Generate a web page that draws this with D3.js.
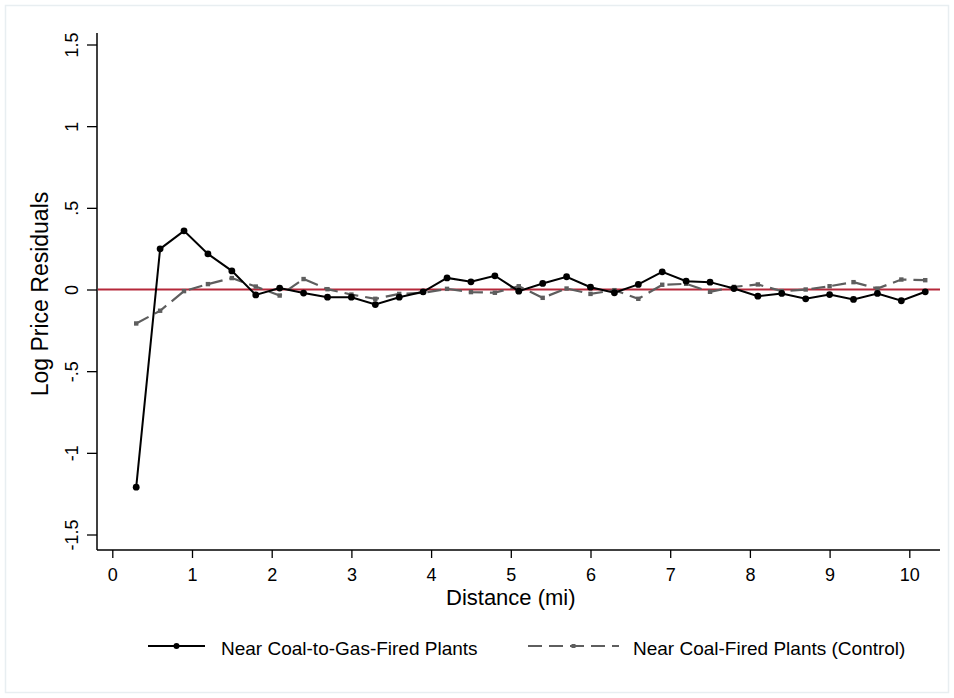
<!DOCTYPE html>
<html>
<head>
<meta charset="utf-8">
<script src="https://cdn.jsdelivr.net/npm/d3@7"></script>
<style>
  html, body { margin: 0; padding: 0; background: #fff; }
  svg { display: block; font-family: "Liberation Sans", Arial, Helvetica, sans-serif; }
</style>
</head>
<body>
<svg id="chart" width="954" height="698"></svg>
<script>
// Distance bins (miles)
const distance = [0.3, 0.6, 0.9, 1.2, 1.5, 1.8, 2.1, 2.4, 2.7, 3.0, 3.3, 3.6, 3.9, 4.2, 4.5, 4.8, 5.1,
                  5.4, 5.7, 6.0, 6.3, 6.6, 6.9, 7.2, 7.5, 7.8, 8.1, 8.4, 8.7, 9.0, 9.3, 9.6, 9.9, 10.2];

// Mean log price residuals near coal-to-gas conversions
const coalToGas = [-1.21, 0.249, 0.359, 0.218, 0.114, -0.033, 0.009, -0.022, -0.047, -0.047, -0.092, -0.047,
                   -0.014, 0.071, 0.047, 0.084, -0.010, 0.037, 0.078, 0.014, -0.020, 0.031, 0.108, 0.051,
                   0.045, 0.006, -0.041, -0.024, -0.057, -0.031, -0.061, -0.024, -0.069, -0.014];

// Mean log price residuals near coal-fired plants (control)
const coalControl = [-0.208, -0.130, -0.010, 0.033, 0.070, 0.018, -0.037, 0.064, 0.002, -0.031, -0.057, -0.027,
                     -0.020, 0.004, -0.016, -0.020, 0.020, -0.051, 0.006, -0.027, -0.004, -0.057, 0.029, 0.035,
                     -0.014, 0.016, 0.031, -0.010, 0.000, 0.020, 0.045, 0.006, 0.061, 0.057];

const xTicks = [0, 1, 2, 3, 4, 5, 6, 7, 8, 9, 10];
const yTicks = [-1.5, -1, -0.5, 0, 0.5, 1, 1.5];
const yTickLabels = ["-1.5", "-1", "-.5", "0", ".5", "1", "1.5"];

const seriesNames = ["Near Coal-to-Gas-Fired Plants", "Near Coal-Fired Plants (Control)"];

const svg = d3.select("#chart");
const FONT = "Liberation Sans, Arial, Helvetica, sans-serif";

// outer graph-region frame
svg.append("rect")
  .attr("x", 5.5).attr("y", 5.5).attr("width", 943).attr("height", 687)
  .attr("fill", "#fff").attr("stroke", "#e8eef1").attr("stroke-width", 1.5);

const x = d3.scaleLinear().domain([0, 10]).range([112.3, 909.3]);
const y = d3.scaleLinear().domain([-1.5, 1.5]).range([534.5, 44.5]);

const plotLeft = 97, plotRight = 940, plotTop = 33, plotBottom = 550;

// x axis
const xAxis = d3.axisBottom(x).tickValues(xTicks).tickFormat(d3.format("d")).tickSize(8).tickPadding(10);
const gx = svg.append("g").attr("transform", `translate(0,${plotBottom})`).call(xAxis)
  .attr("font-size", 18).attr("font-family", FONT);
gx.select(".domain").remove();
gx.append("line").attr("x1", plotLeft).attr("x2", plotRight).attr("y1", 0).attr("y2", 0)
  .attr("stroke", "#000").attr("stroke-width", 1.5);
gx.selectAll(".tick line").attr("stroke", "#000").attr("stroke-width", 1.3);
gx.selectAll(".tick text").attr("fill", "#000");

// y axis with rotated tick labels
const yAxis = d3.axisLeft(y).tickValues(yTicks).tickFormat((d, i) => yTickLabels[i]).tickSize(10).tickPadding(4);
const gy = svg.append("g").attr("transform", `translate(${plotLeft},0)`).call(yAxis)
  .attr("font-size", 18).attr("font-family", FONT);
gy.select(".domain").remove();
gy.append("line").attr("x1", 0).attr("x2", 0).attr("y1", plotTop).attr("y2", plotBottom)
  .attr("stroke", "#000").attr("stroke-width", 1.5);
gy.selectAll(".tick line").attr("stroke", "#000").attr("stroke-width", 1.3);
gy.selectAll(".tick text")
  .attr("fill", "#000")
  .attr("x", null)
  .attr("text-anchor", "middle")
  .attr("transform", "translate(-25.5,0) rotate(-90)")
  .attr("dy", "0.36em");

// axis titles
svg.append("text")
  .attr("x", (x(0) + x(10)) / 2).attr("y", 605)
  .attr("text-anchor", "middle").attr("font-size", 22).text("Distance (mi)");
svg.append("text")
  .attr("transform", `translate(48,294) rotate(-90)`)
  .attr("text-anchor", "middle").attr("font-size", 23).text("Log Price Residuals");

// zero reference line
svg.append("line")
  .attr("x1", plotLeft + 1).attr("x2", plotRight)
  .attr("y1", y(0)).attr("y2", y(0))
  .attr("stroke", "#b5283a").attr("stroke-width", 2);

const line = d3.line().x(d => x(d[0])).y(d => y(d[1]));

const controlData = distance.map((d, i) => [d, coalControl[i]]);
const treatData = distance.map((d, i) => [d, coalToGas[i]]);

// control series: gray dashed with small markers
svg.append("path").datum(controlData)
  .attr("d", line).attr("fill", "none")
  .attr("stroke", "#5e5e5e").attr("stroke-width", 2.2)
  .attr("stroke-dasharray", "14,7");
svg.append("g").selectAll("rect").data(controlData).join("rect")
  .attr("x", d => x(d[0]) - 2.2).attr("y", d => y(d[1]) - 2.2)
  .attr("width", 4.4).attr("height", 4.4).attr("fill", "#5e5e5e");

// treatment series: solid black with dot markers
svg.append("path").datum(treatData)
  .attr("d", line).attr("fill", "none")
  .attr("stroke", "#000").attr("stroke-width", 2);
svg.append("g").selectAll("circle").data(treatData).join("circle")
  .attr("cx", d => x(d[0])).attr("cy", d => y(d[1])).attr("r", 3.4).attr("fill", "#000");

// legend
const legY = 646;
const leg = svg.append("g").attr("font-size", 19);
leg.append("line").attr("x1", 148).attr("x2", 205).attr("y1", legY).attr("y2", legY)
  .attr("stroke", "#000").attr("stroke-width", 2);
leg.append("circle").attr("cx", 176.5).attr("cy", legY).attr("r", 3).attr("fill", "#000");
leg.append("text").attr("x", 221).attr("y", legY + 9).text(seriesNames[0]);

leg.append("line").attr("x1", 528).attr("x2", 619).attr("y1", legY).attr("y2", legY)
  .attr("stroke", "#5e5e5e").attr("stroke-width", 2.2).attr("stroke-dasharray", "14,7");
leg.append("rect").attr("x", 573.5 - 2).attr("y", legY - 2).attr("width", 4).attr("height", 4).attr("fill", "#5e5e5e");
leg.append("text").attr("x", 633).attr("y", legY + 9).text(seriesNames[1]);
</script>
</body>
</html>
